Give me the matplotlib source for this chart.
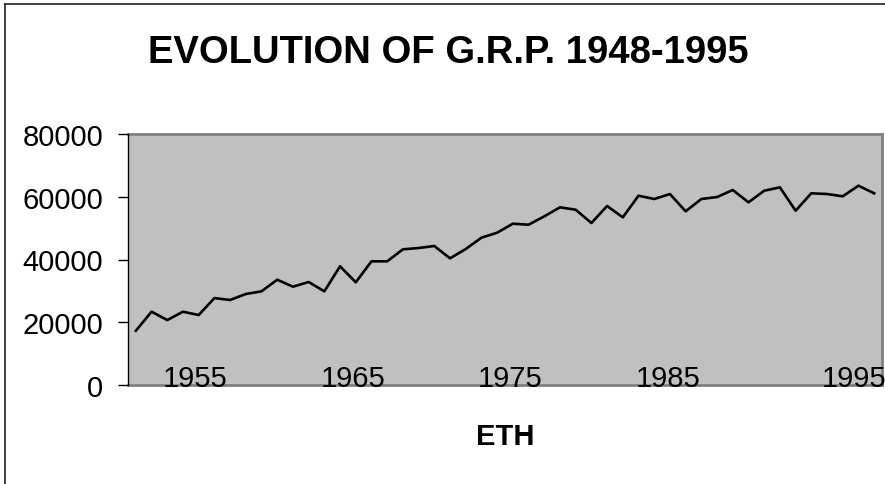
import matplotlib.pyplot as plt
from matplotlib.lines import Line2D

plt.rcParams['font.family'] = ['Liberation Sans', 'DejaVu Sans']

# G.R.P. values, one per year 1948-1995
years = list(range(1948, 1996))
grp = [17300, 23360, 20700, 23360, 22300, 27700, 27100, 29000, 29860, 33560,
       31330, 32830, 29860, 37830, 32730, 39420, 39420, 43240, 43660, 44300,
       40370, 43340, 46950, 48540, 51410, 51090, 53750, 56630, 55870, 51630,
       57050, 53440, 60330, 59280, 60870, 55360, 59280, 59910, 62150, 58220,
       61920, 63000, 55550, 61100, 60870, 60140, 63520, 61100]

# category axis labels and where they sit (in category index units)
tick_labels = ['1955', '1965', '1975', '1985', '1995']
tick_pos = [3.8, 13.8, 23.8, 33.9, 45.7]
y_ticks = [0, 20000, 40000, 60000, 80000]

fig = plt.figure(figsize=(8.85, 4.85), dpi=100)
ax = fig.add_axes([128 / 885, 99 / 485, 754 / 885, 251 / 485])
ax.set_facecolor('#C0C0C0')

ax.plot(range(len(grp)), grp, color='black', lw=1.9)

ax.set_xlim(-0.5, len(grp) - 0.5)
ax.set_ylim(0, 80000)
ax.set_yticks(y_ticks)
ax.set_yticklabels([str(v) for v in y_ticks], fontsize=21)
ax.set_xticks(tick_pos)
ax.set_xticklabels(tick_labels, fontsize=21)
ax.tick_params(axis='x', length=0, pad=-15)
ax.tick_params(axis='y', length=7, width=1, pad=11)

for side in ['top', 'right', 'bottom']:
    ax.spines[side].set_color('#808080')
    ax.spines[side].set_linewidth(2)
    ax.spines[side].set_zorder(1)
ax.spines['left'].set_color('black')
ax.spines['left'].set_linewidth(1)

fig.text(448 / 885, 1 - 53 / 485, 'EVOLUTION OF G.R.P. 1948-1995',
         ha='center', va='center', fontsize=27.5, fontweight='bold')
fig.text(505 / 885, 1 - 437 / 485, 'ETH',
         ha='center', va='center', fontsize=21, fontweight='bold')

# chart area border (left and top edges visible)
fig.add_artist(Line2D([5 / 885, 5 / 885], [0, 1 - 5 / 485], color='#202020', lw=1.2))
fig.add_artist(Line2D([5 / 885, 1], [1 - 5 / 485, 1 - 5 / 485], color='#202020', lw=1.2))

fig.savefig('out.png', dpi=100)
